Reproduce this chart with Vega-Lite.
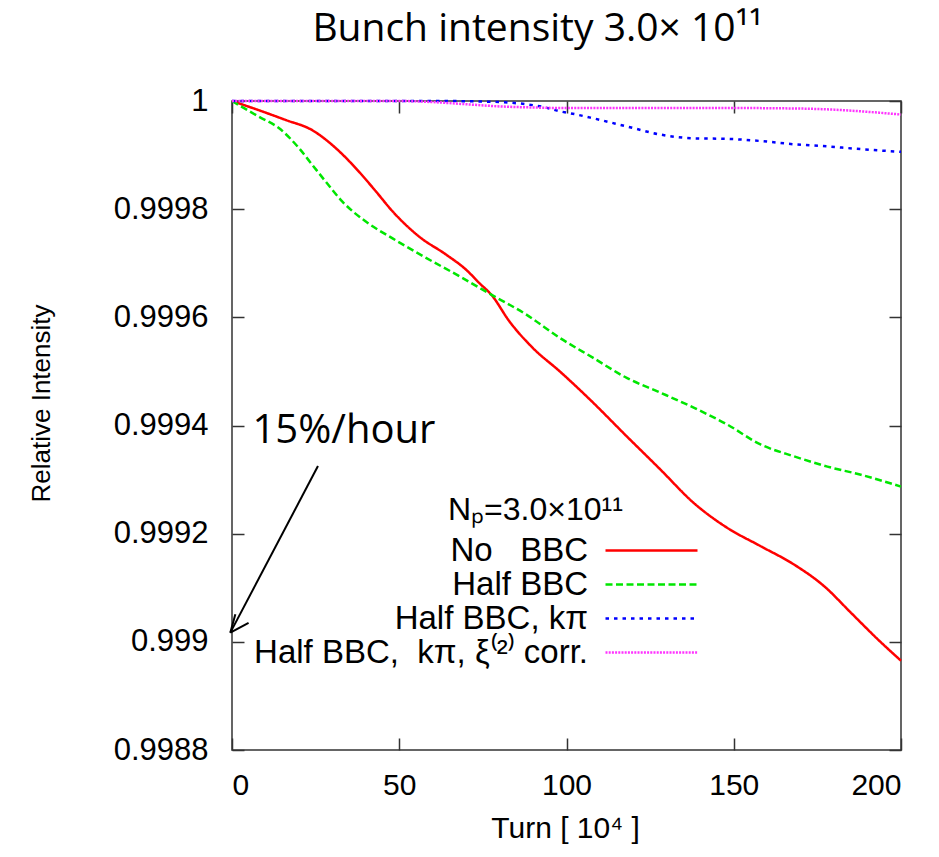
{
  "$schema": "https://vega.github.io/schema/vega-lite/v6.json",
  "width": 669,
  "height": 649,
  "autosize": {"type": "none"},
  "padding": {"left": 232, "top": 101, "right": 38, "bottom": 107},
  "background": "white",
  "title": {
    "text": "Bunch intensity 3.0× 10¹¹",
    "font": "Open Sans",
    "fontSize": 39,
    "fontWeight": "normal",
    "color": "black",
    "anchor": "middle",
    "dx": -29,
    "offset": 36
  },
  "config": {
    "view": {"stroke": "#333333", "strokeWidth": 1.5},
    "axis": {
      "grid": false,
      "domain": false,
      "labelFont": "Liberation Sans",
      "labelFontSize": 30,
      "labelColor": "black",
      "titleFont": "Liberation Sans",
      "titleColor": "black",
      "titleFontWeight": "normal",
      "tickColor": "#333333",
      "tickWidth": 1.5,
      "tickSize": 12,
      "offset": -12
    },
    "legend": {
      "orient": "none",
      "legendX": 403,
      "legendY": 433,
      "padding": 0,
      "labelFont": "Liberation Sans",
      "labelFontSize": 33,
      "labelColor": "black",
      "labelAlign": "right",
      "labelOffset": -80,
      "labelLimit": 600,
      "symbolSize": 529,
      "symbolStrokeWidth": 2.5,
      "rowPadding": 0,
      "symbolType": "M-4,0H4"
    }
  },
  "datasets": {
    "curves": [
      {"series": "No\u00a0\u00a0\u00a0BBC", "turn": 0, "intensity": 1.0},
      {"series": "No\u00a0\u00a0\u00a0BBC", "turn": 8, "intensity": 0.999983},
      {"series": "No\u00a0\u00a0\u00a0BBC", "turn": 16, "intensity": 0.999965},
      {"series": "No\u00a0\u00a0\u00a0BBC", "turn": 24, "intensity": 0.999946},
      {"series": "No\u00a0\u00a0\u00a0BBC", "turn": 31, "intensity": 0.999913},
      {"series": "No\u00a0\u00a0\u00a0BBC", "turn": 38, "intensity": 0.999869},
      {"series": "No\u00a0\u00a0\u00a0BBC", "turn": 43, "intensity": 0.999833},
      {"series": "No\u00a0\u00a0\u00a0BBC", "turn": 48, "intensity": 0.999796},
      {"series": "No\u00a0\u00a0\u00a0BBC", "turn": 56, "intensity": 0.999749},
      {"series": "No\u00a0\u00a0\u00a0BBC", "turn": 64, "intensity": 0.999716},
      {"series": "No\u00a0\u00a0\u00a0BBC", "turn": 70, "intensity": 0.999688},
      {"series": "No\u00a0\u00a0\u00a0BBC", "turn": 74, "intensity": 0.999663},
      {"series": "No\u00a0\u00a0\u00a0BBC", "turn": 77.5, "intensity": 0.999642},
      {"series": "No\u00a0\u00a0\u00a0BBC", "turn": 83, "intensity": 0.999592},
      {"series": "No\u00a0\u00a0\u00a0BBC", "turn": 90, "intensity": 0.999543},
      {"series": "No\u00a0\u00a0\u00a0BBC", "turn": 98, "intensity": 0.9995},
      {"series": "No\u00a0\u00a0\u00a0BBC", "turn": 107, "intensity": 0.999448},
      {"series": "No\u00a0\u00a0\u00a0BBC", "turn": 118, "intensity": 0.99938},
      {"series": "No\u00a0\u00a0\u00a0BBC", "turn": 128, "intensity": 0.999319},
      {"series": "No\u00a0\u00a0\u00a0BBC", "turn": 138, "intensity": 0.999257},
      {"series": "No\u00a0\u00a0\u00a0BBC", "turn": 148, "intensity": 0.999211},
      {"series": "No\u00a0\u00a0\u00a0BBC", "turn": 158, "intensity": 0.999177},
      {"series": "No\u00a0\u00a0\u00a0BBC", "turn": 168, "intensity": 0.999143},
      {"series": "No\u00a0\u00a0\u00a0BBC", "turn": 177, "intensity": 0.999103},
      {"series": "No\u00a0\u00a0\u00a0BBC", "turn": 185, "intensity": 0.999054},
      {"series": "No\u00a0\u00a0\u00a0BBC", "turn": 193, "intensity": 0.999005},
      {"series": "No\u00a0\u00a0\u00a0BBC", "turn": 200, "intensity": 0.998965},

      {"series": "Half BBC", "turn": 0, "intensity": 1.0},
      {"series": "Half BBC", "turn": 8, "intensity": 0.999971},
      {"series": "Half BBC", "turn": 14, "intensity": 0.99995},
      {"series": "Half BBC", "turn": 20, "intensity": 0.999913},
      {"series": "Half BBC", "turn": 24, "intensity": 0.999882},
      {"series": "Half BBC", "turn": 28, "intensity": 0.999851},
      {"series": "Half BBC", "turn": 33, "intensity": 0.999814},
      {"series": "Half BBC", "turn": 40, "intensity": 0.999777},
      {"series": "Half BBC", "turn": 48, "intensity": 0.999746},
      {"series": "Half BBC", "turn": 58, "intensity": 0.99971},
      {"series": "Half BBC", "turn": 68, "intensity": 0.999676},
      {"series": "Half BBC", "turn": 77.5, "intensity": 0.999642},
      {"series": "Half BBC", "turn": 88, "intensity": 0.999605},
      {"series": "Half BBC", "turn": 98, "intensity": 0.999562},
      {"series": "Half BBC", "turn": 108, "intensity": 0.999525},
      {"series": "Half BBC", "turn": 118, "intensity": 0.999488},
      {"series": "Half BBC", "turn": 128, "intensity": 0.999461},
      {"series": "Half BBC", "turn": 138, "intensity": 0.999433},
      {"series": "Half BBC", "turn": 148, "intensity": 0.999402},
      {"series": "Half BBC", "turn": 158, "intensity": 0.999365},
      {"series": "Half BBC", "turn": 168, "intensity": 0.999343},
      {"series": "Half BBC", "turn": 178, "intensity": 0.999324},
      {"series": "Half BBC", "turn": 188, "intensity": 0.999309},
      {"series": "Half BBC", "turn": 200, "intensity": 0.999287},

      {"series": "Half BBC, kπ", "turn": 0, "intensity": 1.0},
      {"series": "Half BBC, kπ", "turn": 30, "intensity": 1.0},
      {"series": "Half BBC, kπ", "turn": 60, "intensity": 1.0},
      {"series": "Half BBC, kπ", "turn": 75, "intensity": 0.999999},
      {"series": "Half BBC, kπ", "turn": 83, "intensity": 0.999997},
      {"series": "Half BBC, kπ", "turn": 88, "intensity": 0.999994},
      {"series": "Half BBC, kπ", "turn": 93, "intensity": 0.999989},
      {"series": "Half BBC, kπ", "turn": 98, "intensity": 0.999981},
      {"series": "Half BBC, kπ", "turn": 103, "intensity": 0.999975},
      {"series": "Half BBC, kπ", "turn": 108, "intensity": 0.999968},
      {"series": "Half BBC, kπ", "turn": 118, "intensity": 0.999953},
      {"series": "Half BBC, kπ", "turn": 128, "intensity": 0.999938},
      {"series": "Half BBC, kπ", "turn": 138, "intensity": 0.999931},
      {"series": "Half BBC, kπ", "turn": 148, "intensity": 0.99993},
      {"series": "Half BBC, kπ", "turn": 158, "intensity": 0.999926},
      {"series": "Half BBC, kπ", "turn": 168, "intensity": 0.99992},
      {"series": "Half BBC, kπ", "turn": 178, "intensity": 0.999916},
      {"series": "Half BBC, kπ", "turn": 188, "intensity": 0.999911},
      {"series": "Half BBC, kπ", "turn": 200, "intensity": 0.999906},

      {"series": "Half BBC,\u00a0 kπ, ξ⁽²⁾ corr.", "turn": 0, "intensity": 1.0},
      {"series": "Half BBC,\u00a0 kπ, ξ⁽²⁾ corr.", "turn": 50, "intensity": 1.0},
      {"series": "Half BBC,\u00a0 kπ, ξ⁽²⁾ corr.", "turn": 60, "intensity": 0.999998},
      {"series": "Half BBC,\u00a0 kπ, ξ⁽²⁾ corr.", "turn": 70, "intensity": 0.999994},
      {"series": "Half BBC,\u00a0 kπ, ξ⁽²⁾ corr.", "turn": 80, "intensity": 0.99999},
      {"series": "Half BBC,\u00a0 kπ, ξ⁽²⁾ corr.", "turn": 90, "intensity": 0.999988},
      {"series": "Half BBC,\u00a0 kπ, ξ⁽²⁾ corr.", "turn": 100, "intensity": 0.999987},
      {"series": "Half BBC,\u00a0 kπ, ξ⁽²⁾ corr.", "turn": 150, "intensity": 0.999987},
      {"series": "Half BBC,\u00a0 kπ, ξ⁽²⁾ corr.", "turn": 170, "intensity": 0.999986},
      {"series": "Half BBC,\u00a0 kπ, ξ⁽²⁾ corr.", "turn": 180, "intensity": 0.999984},
      {"series": "Half BBC,\u00a0 kπ, ξ⁽²⁾ corr.", "turn": 190, "intensity": 0.99998},
      {"series": "Half BBC,\u00a0 kπ, ξ⁽²⁾ corr.", "turn": 200, "intensity": 0.999975}
    ]
  },
  "layer": [
    {
      "data": {"name": "curves"},
      "mark": {"type": "line", "strokeWidth": 2.5, "interpolate": "monotone"},
      "encoding": {
        "x": {
          "field": "turn", "type": "quantitative",
          "scale": {"domain": [0, 200], "nice": false, "zero": false},
          "axis": {
            "orient": "bottom",
            "values": [0, 50, 100, 150, 200],
            "labelPadding": 20,
            "title": "Turn [ 10⁴ ]",
            "titleFontSize": 30,
            "titleX": 333,
            "titleY": 99,
            "titleBaseline": "alphabetic"
          }
        },
        "y": {
          "field": "intensity", "type": "quantitative",
          "scale": {"domain": [0.9988, 1.0], "nice": false, "zero": false},
          "axis": {
            "orient": "left",
            "values": [0.9988, 0.999, 0.9992, 0.9994, 0.9996, 0.9998, 1.0],
            "format": "~g",
            "labelPadding": 24,
            "labelFontSize": 31,
            "title": "Relative Intensity",
            "titleFontSize": 26,
            "titleX": -203,
            "titleY": 302,
            "titleAngle": -90,
            "titleBaseline": "middle",
            "titleAlign": "center"
          }
        },
        "color": {
          "field": "series", "type": "nominal",
          "scale": {
            "domain": ["No\u00a0\u00a0\u00a0BBC", "Half BBC", "Half BBC, kπ", "Half BBC,\u00a0 kπ, ξ⁽²⁾ corr."],
            "range": ["#ff0000", "#00e600", "#0000ff", "#ff33ff"]
          },
          "legend": {"title": null}
        },
        "strokeDash": {
          "field": "series", "type": "nominal",
          "scale": {
            "domain": ["No\u00a0\u00a0\u00a0BBC", "Half BBC", "Half BBC, kπ", "Half BBC,\u00a0 kπ, ξ⁽²⁾ corr."],
            "range": [[1, 0], [7, 3.5], [3.5, 5], [2, 1.2]]
          },
          "legend": {"title": null}
        }
      }
    },
    {
      "data": {"name": "curves"},
      "mark": {"type": "line", "opacity": 0},
      "encoding": {
        "x": {
          "field": "turn", "type": "quantitative",
          "axis": {"orient": "top", "values": [0, 50, 100, 150, 200], "labels": false, "title": null}
        },
        "y": {
          "field": "intensity", "type": "quantitative",
          "axis": {"orient": "right", "values": [0.9988, 0.999, 0.9992, 0.9994, 0.9996, 0.9998, 1.0], "labels": false, "title": null}
        }
      }
    },
    {
      "data": {"values": [{}]},
      "mark": {"type": "text", "text": "Nₚ=3.0×10¹¹", "font": "Liberation Sans", "fontSize": 32, "align": "center", "baseline": "alphabetic", "color": "black"},
      "encoding": {
        "x": {"datum": 90.7, "type": "quantitative", "axis": null},
        "y": {"datum": 0.999226, "type": "quantitative", "axis": null}
      }
    },
    {
      "data": {"values": [{}]},
      "mark": {"type": "text", "text": "15%/hour", "font": "Open Sans", "fontSize": 40, "align": "left", "baseline": "alphabetic", "color": "black"},
      "encoding": {
        "x": {"datum": 6.1, "type": "quantitative", "axis": null},
        "y": {"datum": 0.999368, "type": "quantitative", "axis": null}
      }
    },
    {
      "data": {"values": [{}]},
      "mark": {"type": "rule", "color": "black", "strokeWidth": 2, "clip": false},
      "encoding": {
        "x": {"datum": 25.7, "type": "quantitative", "axis": null},
        "y": {"datum": 0.999325, "type": "quantitative", "axis": null},
        "x2": {"datum": -0.5},
        "y2": {"datum": 0.999017}
      }
    },
    {
      "data": {"values": [{}]},
      "mark": {"type": "rule", "color": "black", "strokeWidth": 2, "clip": false},
      "encoding": {
        "x": {"datum": 4.96, "type": "quantitative", "axis": null},
        "y": {"datum": 0.999035, "type": "quantitative", "axis": null},
        "x2": {"datum": -0.5},
        "y2": {"datum": 0.999017}
      }
    },
    {
      "data": {"values": [{}]},
      "mark": {"type": "rule", "color": "black", "strokeWidth": 2, "clip": false},
      "encoding": {
        "x": {"datum": 1.0, "type": "quantitative", "axis": null},
        "y": {"datum": 0.999051, "type": "quantitative", "axis": null},
        "x2": {"datum": -0.5},
        "y2": {"datum": 0.999017}
      }
    }
  ],
  "resolve": {"axis": {"x": "independent", "y": "independent"}}
}
